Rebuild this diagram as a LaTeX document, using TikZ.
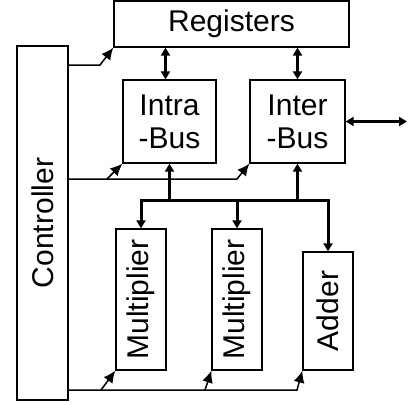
\documentclass[tikz,border=0pt]{standalone}
\usepackage{fontspec}
\setmainfont{Liberation Sans}
\usetikzlibrary{arrows.meta, positioning, calc}

\begin{document}
\begin{tikzpicture}[
		x=1pt, y=-1pt,
		font=\fontsize{30}{33}\selectfont,
		blk/.style={
			draw,
			rectangle,
			line width=1.3pt,
			align=center,
			inner sep=0pt
		},
		ctl/.style={-{Latex[length=12pt,width=11pt]}, line width=1.5pt},
		bus/.style={line width=3pt, line join=miter},
		bustip/.style={{Triangle[length=8pt,width=9pt]}-{Triangle[length=8pt,width=9pt]}, bus}
		]
		\useasboundingbox (0,0) rectangle (408,405);
		
		% ---- Boxes ----
		\node[blk, minimum width=235pt, minimum height=46pt] (reg) at (231.5,24) {Registers};
		\node[blk, minimum width=51pt, minimum height=354pt] (ctrl) at (42.5,223) {\rotatebox{90}{Controller}};
		
		\node[blk, minimum width=93pt, minimum height=83pt] (intra) at (169.5,121.5) {Intra\\-Bus};
		\node[blk, minimum width=95pt, minimum height=83pt] (inter) at (297.5,121.5) {Inter\\-Bus};
		
		\node[blk, minimum width=50pt, minimum height=141pt] (mulA) at (141,299.5) {\rotatebox{90}{Multiplier}};
		\node[blk, minimum width=50pt, minimum height=141pt] (mulB) at (237,299.5) {\rotatebox{90}{Multiplier}};
		\node[blk, minimum width=50pt, minimum height=118pt] (add) at (328,311) {\rotatebox{90}{Adder}};
		
		% ---- Data paths ----
		\coordinate (bus) at (0,200);
		\coordinate (ext) at (407,121.5);
		
		\draw[bustip] ([xshift=-4pt]reg.south -| intra.north) -- ([xshift=-4pt]intra.north);
		\draw[bustip] (reg.south -| inter.north) -- (inter.north);
		\draw[bustip] (inter.east) -- (ext);
		
		\draw[bustip] (mulA.north) |- (add.north |- bus) -- (add.north);
		\draw[bus, -{Triangle[length=8pt,width=9pt]}] (mulB.north |- bus) -- (mulB.north);
		\draw[bus, -{Triangle[length=8pt,width=9pt]}] (intra.south |- bus) -- (intra.south);
		\draw[bus, -{Triangle[length=8pt,width=9pt]}] (inter.south |- bus) -- (inter.south);
		
		% ---- Control lines ----
		\coordinate (ctop) at (100,65);
		\coordinate (cmid) at (237,179);
		\coordinate (cmidA) at (107,179);
		\coordinate (cbot) at (297,390);
		\coordinate (cbotA) at (101,390);
		\coordinate (cbotB) at (205,390);
		
		\draw[ctl] (ctrl.east |- ctop) -- (ctop) -- (reg.south west);
		\draw[ctl] (ctrl.east |- cmid) -- (cmid) -- (inter.south west);
		\draw[ctl] (cmidA) -- (intra.south west);
		\draw[ctl] (ctrl.east |- cbot) -- (cbot) -- (add.south west);
		\draw[ctl] (cbotA) -- (mulA.south west);
		\draw[ctl] (cbotB) -- (mulB.south west);
		
	\end{tikzpicture}
\end{document}
